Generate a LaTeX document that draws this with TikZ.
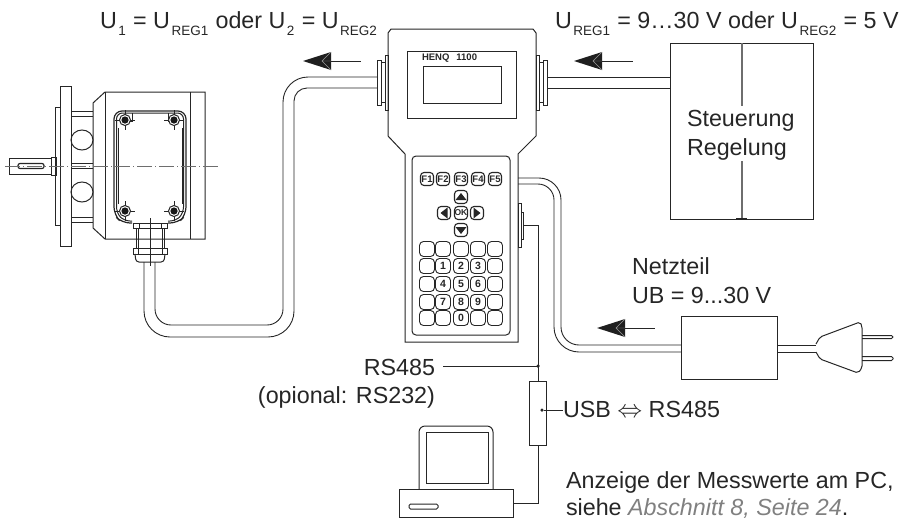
\documentclass[tikz,border=0pt]{standalone}
\usepackage{fontspec}
\setmainfont{Liberation Sans}
\usetikzlibrary{arrows.meta,positioning,calc}
\definecolor{lineInk}{HTML}{262626}
\definecolor{axisGrey}{HTML}{6E6E6E}
\definecolor{refGrey}{HTML}{808080}
\newcommand{\regsub}[1]{\hspace{1.5pt}\raisebox{-7.7pt}{\fontsize{13.5}{14}\selectfont #1}\hspace{0.8pt}}
\newcommand{\keydigit}{\fontsize{10.5}{10.5}\bfseries\selectfont}

\begin{document}
\begin{tikzpicture}[
            x=1pt, y=-1pt,
            every node/.style={font=\fontsize{23.3}{28.5}\selectfont, text=black!85, inner sep=0pt, outer sep=0pt},
            part/.style={draw=lineInk, line width=1pt},
            wire/.style={draw=lineInk, line width=0.9pt},
            hair/.style={draw=lineInk, line width=0.6pt},
            axis/.style={draw=axisGrey, line width=0.9pt, dash pattern=on 15pt off 3pt on 1pt off 3pt},
            boxnode/.style={part, rectangle, fill=white},
            keybox/.style={part, rectangle, line width=1.1pt, rounded corners=3.5pt, fill=white, minimum width=13pt, minimum height=13pt,
                           font=\fontsize{9.5}{9.5}\bfseries\selectfont},
            numbox/.style={keybox, line width=0.9pt, rounded corners=4pt, minimum width=15pt, minimum height=15pt, font=\keydigit},
            dot/.style={circle, fill=lineInk, minimum size=3.5pt},
            flowtip/.pic={
                \fill[black!88] (0,0) -- (28,-9) -- (28,9) -- cycle;
                \draw[white!60!black, line width=0.4pt] (28,-9) -- (19,0) -- (28,9) (19,0) -- (28,0);
            },
            screw/.pic={
                \draw[hair] (-10,0) -- (10,0) (0,-10) -- (0,10);
                \draw[part, fill=white] (0,0) circle (5.5);
                \fill[black!90] (0,0) circle (3.6);
            }
        ]
        \useasboundingbox (0,0) rectangle (917,520);

        %---------------- Motor ----------------%
        \draw[part] (60,86) rectangle (71,246);
        \draw[part] (55,107) rectangle (60,225);
        \draw[part] (9,158) rectangle (51,174);
        \draw[part] (51,157) rectangle (56,175);
        \draw[part, rounded corners=2pt, line width=1.2pt] (18,163.5) rectangle (44,168.5);
        \draw[hair] (71,111) -- (93,111) (71,116) -- (93,116);
        \draw[hair] (71,217) -- (93,217) (71,222) -- (93,222);
        \draw[hair] (71,163) -- (93,163) (71,168) -- (93,168);
        \draw[part] (82,140) ellipse (11 and 10);
        \draw[part] (82,192) ellipse (11 and 10);
        \draw[part] (93,103) -- (105,92) -- (205,92) -- (205,239) -- (105,239) -- (93,228) -- cycle;
        \draw[hair] (105,92) -- (105,239);
        \draw[hair] (190,92) -- (190,239);
        \draw[part, line width=1.2pt, rounded corners=8pt] (132,223) -- (122,223) -- (114,215) -- (114,111) -- (186,111) -- (186,215) -- (178,223) -- (168,223);
        \draw[part, rounded corners=6pt] (132,221) -- (124,221) -- (116.5,213) -- (116.5,113) -- (183.5,113) -- (183.5,213) -- (176,221) -- (168,221);
        \draw[part] (118,128) -- (118,204) (182.5,128) -- (182.5,204);
        \draw[hair] (132,113) -- (132,121) -- (128,121) (168,113) -- (168,121) -- (172,121);
        \pic at (125,120) {screw};
        \pic at (174,120) {screw};
        \pic at (125,211) {screw};
        \pic at (174,211) {screw};
        \draw[axis] (5,166) -- (218,166);

        %---------------- Cable gland ----------------%
        \draw[part] (136,228) rectangle (164,248);
        \draw[hair] (138,228) -- (138,248) (162,228) -- (162,248);
        \draw[part] (133,223) rectangle (167,228);
        \draw[part] (133,248) rectangle (167,254);
        \draw[hair] (139,223) -- (139,228) (161,223) -- (161,228) (138,248) -- (138,254) (162,248) -- (162,254);
        \draw[part, rounded corners=3pt] (135,254) -- (136,262) -- (164,262) -- (165,254);
        \draw[hair] (150,218) -- (150,266);

        %---------------- Handheld ----------------%
        \draw[part, fill=white] (391,29) -- (533,29) -- (536,33) -- (536,136) -- (518,154) -- (518,342)
            -- (405,342) -- (405,154) -- (388,136) -- (388,33) -- cycle;
        \node[boxnode, minimum width=109pt, minimum height=67pt, anchor=north west] (display) at (407,51) {};
        \node[boxnode, minimum width=78pt, minimum height=37pt, anchor=north west] (screen) at (423,66) {};
        \node[anchor=base west, font=\fontsize{9.5}{10}\bfseries\selectfont] (brand) at (422,60) {HENQ\hspace{7pt}1100};
        \node[boxnode, rounded corners=4pt, minimum width=98pt, minimum height=179pt, anchor=north west] (keypad) at (412,156) {};

        % function keys
        \foreach \k/\xk in {1/427,2/443,3/461,4/478,5/495}
            \node[keybox] (f\k) at (\xk,179) {F\k};
        % cursor keys
        \node[keybox] (kup) at (461,197) {};
        \node[keybox] (kleft) at (444,213) {};
        \node[keybox, font=\fontsize{8.5}{8.5}\bfseries\selectfont] (kok) at (461,213) {OK};
        \node[keybox] (kright) at (477,213) {};
        \node[keybox] (kdown) at (461,230) {};
        \fill[black!85] (455.5,200) -- (466.5,200) -- (461,193) -- cycle;
        \fill[black!85] (455.5,227) -- (466.5,227) -- (461,234) -- cycle;
        \fill[black!85] (447.5,207.5) -- (447.5,218.5) -- (440.5,213) -- cycle;
        \fill[black!85] (473.5,207.5) -- (473.5,218.5) -- (480.5,213) -- cycle;
        % number block
        \foreach \col/\xk in {1/427,2/443,3/461,4/478,5/495}
            \foreach \row/\yk in {1/249,2/266,3/284,4/302,5/318}
                \node[numbox] (n\col\row) at (\xk,\yk) {};
        \node[font=\keydigit] at (n22) {1};
        \node[font=\keydigit] at (n32) {2};
        \node[font=\keydigit] at (n42) {3};
        \node[font=\keydigit] at (n23) {4};
        \node[font=\keydigit] at (n33) {5};
        \node[font=\keydigit] at (n43) {6};
        \node[font=\keydigit] at (n24) {7};
        \node[font=\keydigit] at (n34) {8};
        \node[font=\keydigit] at (n44) {9};
        \node[font=\keydigit] at (n35) {0};

        %================ Side connectors =================%
        \draw[part] (385,55) rectangle (388,110);
        \draw[part] (381,62) rectangle (385,102);
        \draw[part] (377,60) rectangle (381,105);
        \draw[part] (536,55) rectangle (539,110);
        \draw[part] (539,62) rectangle (543,102);
        \draw[part] (543,60) rectangle (547,105);
        \draw[part] (518,203) rectangle (521,247);
        \draw[part] (521,212) rectangle (523,239);
        \coordinate (rsout) at (523,225);
        \coordinate (hostA) at (547,77);
        \coordinate (hostB) at (547,88);

        %---------------- Right ----------------%
        \node[boxnode, minimum width=143pt, minimum height=176pt, anchor=north west] (control) at (670,43) {};
        \node[anchor=north west, align=left] (controltxt) at (687,110.5) {Steuerung\\Regelung};
        \draw[draw=axisGrey, line width=1.2pt] (742,43) -- (742,106);
        \draw[draw=axisGrey, line width=1.2pt] (742,161) -- (742,219);
        \draw[lineInk, line width=1.8pt] (736,218.5) -- (747,218.5);

        \node[boxnode, minimum width=96pt, minimum height=63pt, anchor=north west] (psu) at (681,316) {};
        \node[anchor=base west] (psulabel) at (632,274) {Netzteil};
        \node[anchor=base west] (psuvolt) at (632,303) {UB = 9...30 V};

        % plug
        \draw[part, rounded corners=2pt] (816,344) -- (820,337) -- (860,322) -- (862,326) -- (862,368) -- (858,373) -- (820,359) -- (816,352);
        \draw[part, rounded corners=1.5pt] (862,335.5) -- (893,335.5) -- (893,338.5) -- (862,338.5);
        \draw[part, rounded corners=1.5pt] (862,356.5) -- (893,356.5) -- (893,360.5) -- (862,360.5);
        \coordinate (plugtop) at (816,345);
        \coordinate (plugbot) at (816,352);

        %================ Cables =================%
        \draw[wire] (155,262) [rounded corners=16pt] -- (155,325) -- (283,325) [rounded corners=25pt] -- (283,77) [sharp corners] -- (377,77);
        \draw[wire] (144,262) [rounded corners=26pt] -- (144,337) -- (294,337) [rounded corners=13pt] -- (294,88) [sharp corners] -- (377,88);
        \draw[wire] (hostA) -- (hostA -| control.west);
        \draw[wire] (hostB) -- (hostB -| control.west);
        \draw[wire] (518,178) [rounded corners=22pt] -- (561,178) [rounded corners=18pt] -- (561,345) [sharp corners] -- (681,345);
        \draw[wire] (518,184) [rounded corners=16pt] -- (554,184) [rounded corners=25pt] -- (554,352) [sharp corners] -- (681,352);
        \draw[wire] (psu.east |- plugtop) -- (plugtop);
        \draw[wire] (psu.east |- plugbot) -- (plugbot);

        %================ Flow direction =================%
        \pic at (303,61) {flowtip};
        \draw[hair] (331,61) -- (361,61);
        \pic at (574,61) {flowtip};
        \draw[hair] (602,61) -- (633,61);
        \pic at (597,328) {flowtip};
        \draw[hair] (625,328) -- (655,328);

        %================ Bus to PC =================%
        \node[boxnode, minimum width=17pt, minimum height=64pt] (usbconv) at (538,413) {};
        \node[boxnode, minimum width=114pt, minimum height=28pt, anchor=north west] (pcbase) at (399,489) {};
        \draw[part, rounded corners=1.5pt] (409,504) rectangle (438,509);
        \draw[part, rounded corners=6pt] (419,489) -- (419,426) -- (493,426) -- (493,489);
        \draw[part] (426,432) rectangle (488,483);
        \coordinate (rsjoin) at (538,366);
        \draw[wire] (rsout) -| (rsjoin);
        \draw[wire] (rsjoin) -- (usbconv.north);
        \draw[wire] (usbconv.south) |- (pcbase.east);
        \node[dot] at (rsjoin) {};
        \node[anchor=base east] (rslabel) at (435,375) {RS485};
        \node[anchor=base east] (rsoption) at (435,403) {(opional: RS232)};
        \draw[hair] (443,366) -- (rsjoin);
        \node[dot] (usbdot) at (542,410) {};
        \node[anchor=base west] (usblabel) at (563,417) {USB $\Leftrightarrow$ RS485};
        \draw[hair] (usbdot) -- (563,410);
        \node[anchor=base west] (pclabel) at (566,488) {Anzeige der Messwerte am PC,};
        \node[anchor=base west] (pcref) at (566,515.5) {siehe \textcolor{refGrey}{\itshape Abschnitt 8, Seite 24}.};

        %================ Voltages =================%
        \node[anchor=base west] (uleft) at (100,28) {U\regsub{1} = U\regsub{REG1} oder U\regsub{2} = U\regsub{REG2}};
        \node[anchor=base west] (uright) at (555,28) {U\regsub{REG1} = 9…30 V oder U\regsub{REG2} = 5 V};
        \end{tikzpicture}
\end{document}
